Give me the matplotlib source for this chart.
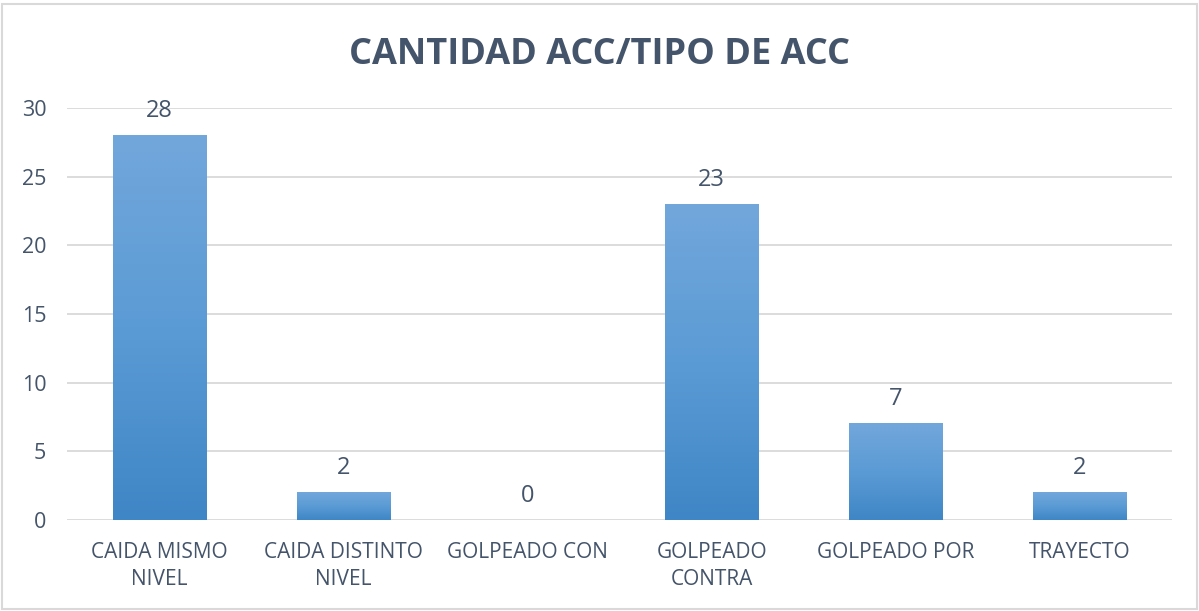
import numpy as np
from matplotlib import pyplot as plt
from matplotlib.patches import Rectangle
from matplotlib.colors import LinearSegmentedColormap

categories = ['CAIDA MISMO\nNIVEL', 'CAIDA DISTINTO\nNIVEL', 'GOLPEADO CON',
              'GOLPEADO\nCONTRA', 'GOLPEADO POR', 'TRAYECTO']
values = [28, 2, 0, 23, 7, 2]
yticks = [0, 5, 10, 15, 20, 25, 30]

text_color = '#44546A'
grid_color = '#D9D9D9'
plt.rcParams['font.family'] = ['Open Sans', 'DejaVu Sans']

fig = plt.figure(figsize=(11.99, 6.11), dpi=100)
ax = fig.add_axes([0.0559, 0.1489, 0.9216, 0.6743])

x = np.arange(len(values))
bar_w = 0.505
bars = ax.bar(x, values, width=bar_w, color='none', edgecolor='none', zorder=3)

# vertical gradient for each bar (light on top, darker at bottom)
grad = np.linspace(0, 1, 256).reshape(-1, 1)
cmap = LinearSegmentedColormap.from_list('bar', ['#3F86C6', '#5B9BD5', '#72A7DB'])
for b in bars:
    h = b.get_height()
    if h <= 0:
        continue
    x0 = b.get_x()
    ax.imshow(grad, cmap=cmap, origin='lower', aspect='auto',
              extent=[x0, x0 + b.get_width(), 0, h], zorder=3)

for xi, v in zip(x, values):
    ax.annotate(str(v), (xi, v), xytext=(0, 9), textcoords='offset points',
                ha='center', va='bottom', fontsize=17, color=text_color)

ax.set_xlim(-0.5, len(values) - 0.5)
ax.set_ylim(0, 30)
ax.set_yticks(yticks)
ax.set_xticks(x)
ax.set_xticklabels(categories, fontsize=15, color=text_color, linespacing=1.35)
ax.tick_params(axis='y', labelsize=15.5, labelcolor=text_color, length=0, pad=15)
ax.tick_params(axis='x', length=0, pad=16)
ax.grid(axis='y', color=grid_color, lw=1.3, zorder=0)
ax.set_axisbelow(True)
for s in ax.spines.values():
    s.set_visible(False)

fig.text(0.5, 0.91, 'CANTIDAD ACC/TIPO DE ACC', ha='center', va='center',
         fontsize=26, fontweight='bold', color=text_color)

fig.patches.append(Rectangle((0.002, 0.003), 0.996, 0.99, transform=fig.transFigure,
                             fill=False, edgecolor=grid_color, lw=1.5))

plt.savefig('out.png', dpi=100)
